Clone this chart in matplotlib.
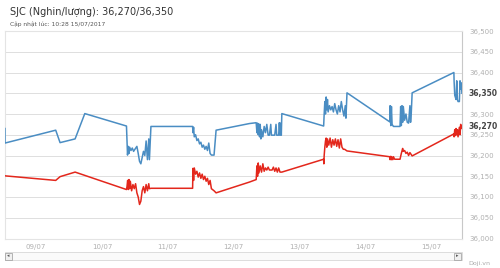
import matplotlib.pyplot as plt
from matplotlib.patches import Rectangle

# time in days of July 2017 (fractional), prices in thousand VND / luong
sell_t = [8.529, 8.530, 9.299, 9.365, 9.593, 9.740, 10.372,
          10.388, 10.40, 10.41, 10.42, 10.44, 10.46, 10.48, 10.50, 10.53, 10.55, 10.57, 10.59,
          10.61, 10.63, 10.65, 10.67, 10.69, 10.71, 10.72, 10.743,
          11.375, 11.38, 11.39, 11.40, 11.42, 11.44, 11.46, 11.48, 11.50, 11.52, 11.54, 11.56,
          11.58, 11.60, 11.62, 11.64, 11.66, 11.70, 11.731,
          12.237,
          12.339, 12.35, 12.36, 12.37, 12.38, 12.39, 12.40, 12.41, 12.42, 12.44, 12.46, 12.48,
          12.50, 12.52, 12.54, 12.56, 12.57, 12.62, 12.64, 12.65, 12.68, 12.69, 12.70, 12.71,
          12.72, 12.728,
          13.362, 13.37, 13.38, 13.39, 13.40, 13.41, 13.42, 13.43, 13.45, 13.47, 13.49, 13.51,
          13.53, 13.55, 13.57, 13.59, 13.61, 13.63, 13.65, 13.67, 13.69, 13.70, 13.716,
          14.365, 14.37, 14.38, 14.39, 14.40, 14.42, 14.52, 14.53, 14.54, 14.55, 14.56, 14.57,
          14.59, 14.61, 14.63, 14.65, 14.67, 14.68, 14.69, 14.704,
          15.337, 15.34, 15.35, 15.36, 15.37, 15.38, 15.39, 15.40, 15.42, 15.43, 15.44, 15.45,
          15.459]
sell_v = [36265, 36230, 36261, 36231, 36240, 36301, 36271,
          36201, 36222, 36205, 36220, 36212, 36218, 36210, 36215, 36222, 36205, 36186, 36180,
          36195, 36210, 36200, 36235, 36190, 36240, 36190, 36270,
          36270, 36255, 36268, 36245, 36250, 36236, 36240, 36228, 36232, 36220, 36225, 36215,
          36222, 36212, 36230, 36205, 36201, 36201, 36261,
          36277,
          36279, 36255, 36278, 36250, 36276, 36245, 36275, 36240, 36262, 36245, 36270, 36255,
          36275, 36249, 36249, 36275, 36249, 36249, 36275, 36249, 36249, 36279, 36249, 36278,
          36249, 36301,
          36271, 36300, 36330, 36300, 36341, 36310, 36335, 36305, 36320, 36310, 36318, 36305,
          36325, 36310, 36300, 36320, 36305, 36330, 36310, 36295, 36320, 36290, 36351,
          36281, 36320, 36272, 36318, 36275, 36270, 36270, 36318, 36272, 36320, 36280, 36318,
          36285, 36300, 36280, 36278, 36320, 36280, 36300, 36351,
          36400, 36380, 36345, 36340, 36335, 36380, 36335, 36330, 36330, 36380, 36360, 36375,
          36350]

buy_t = [8.529, 9.299, 9.365, 9.593, 10.372,
         10.38, 10.39, 10.40, 10.41, 10.42, 10.43, 10.45, 10.47, 10.49, 10.51, 10.53, 10.55,
         10.57, 10.59, 10.61, 10.63, 10.65, 10.67, 10.69, 10.71, 10.72, 10.743,
         11.375, 11.38, 11.39, 11.40, 11.42, 11.44, 11.46, 11.48, 11.50, 11.52, 11.54, 11.56,
         11.58, 11.60, 11.62, 11.64, 11.66, 11.70, 11.731,
         12.237,
         12.339, 12.35, 12.36, 12.37, 12.38, 12.40, 12.42, 12.44, 12.46, 12.48, 12.50, 12.52,
         12.54, 12.58, 12.60, 12.62, 12.64, 12.66, 12.68, 12.70, 12.728,
         13.362, 13.365, 13.37, 13.38, 13.39, 13.40, 13.41, 13.42, 13.44, 13.46, 13.48, 13.50,
         13.52, 13.54, 13.56, 13.58, 13.60, 13.62, 13.64, 13.66, 13.68, 13.716,
         14.365, 14.37, 14.38, 14.39, 14.40, 14.41, 14.42, 14.44, 14.52, 14.54, 14.56, 14.57,
         14.59, 14.61, 14.63, 14.65, 14.67, 14.704,
         15.337, 15.34, 15.35, 15.36, 15.37, 15.38, 15.39, 15.40, 15.42, 15.43, 15.44, 15.45,
         15.459]
buy_v = [36151, 36140, 36149, 36160, 36118,
         36125, 36140, 36118, 36142, 36120, 36138, 36115, 36130, 36120, 36132, 36110, 36100,
         36082, 36090, 36115, 36125, 36110, 36130, 36115, 36132, 36120, 36121,
         36121, 36169, 36140, 36170, 36155, 36162, 36148, 36158, 36145, 36155, 36142, 36150,
         36138, 36145, 36130, 36140, 36120, 36115, 36110,
         36136,
         36142, 36175, 36150, 36182, 36158, 36175, 36160, 36180, 36162, 36170, 36165, 36172,
         36165, 36165, 36172, 36162, 36170, 36160, 36170, 36160, 36160,
         36191, 36180, 36200, 36220, 36235, 36242, 36220, 36240, 36225, 36242, 36220, 36238,
         36225, 36240, 36222, 36238, 36218, 36240, 36220, 36215, 36215, 36211,
         36197, 36190, 36198, 36190, 36196, 36190, 36197, 36191, 36191, 36205, 36217, 36210,
         36212, 36205, 36208, 36200, 36207, 36199,
         36252, 36245, 36262, 36248, 36265, 36250, 36262, 36245, 36268, 36250, 36275, 36265,
         36270]

day_ticks = [9, 10, 11, 12, 13, 14, 15]
day_labels = ['09/07', '10/07', '11/07', '12/07', '13/07', '14/07', '15/07']
y_ticks = list(range(36000, 36501, 50))
last_buy = 36270
last_sell = 36350

fig = plt.figure(figsize=(5, 2.68), dpi=100)
W, H = 500, 268
ax = fig.add_axes([5 / W, 1 - 238.5 / H, 457 / W, 207.5 / H])

ax.plot(sell_t, sell_v, color='#4a8dc3', lw=1.1, zorder=3)
ax.plot(buy_t, buy_v, color='#e3271c', lw=1.1, zorder=3)

ax.set_xlim(8.53, 15.46)
ax.set_ylim(36000, 36500)
ax.yaxis.tick_right()
ax.set_yticks(y_ticks)
# the sell price label takes the place of its own gridline label
ax.set_yticklabels(['' if v == last_sell else '{:,}'.format(v) for v in y_ticks],
                   color='#b0b0b0', fontsize=5)
ax.set_xticks(day_ticks)
ax.set_xticklabels(day_labels, color='#b0b0b0', fontsize=5)
ax.tick_params(length=0, pad=4)
ax.tick_params(axis='y', pad=5)
ax.grid(axis='y', color='#dedede', lw=0.7)
for s in ['left', 'top', 'bottom']:
    ax.spines[s].set_color('#e4e4e4')
    ax.spines[s].set_linewidth(0.8)
ax.spines['right'].set_color('#c8c8c8')
ax.spines['right'].set_linewidth(0.8)

# highlighted last values on the right axis
for v in (last_sell, last_buy):
    ax.annotate('{:,}'.format(v), xy=(1, v), xycoords=('axes fraction', 'data'),
                xytext=(5, 0), textcoords='offset points', va='center', ha='left',
                fontsize=5.5, color='#444444', fontweight='bold')

fig.text(10 / W, 1 - 12 / H, 'SJC (Nghin/lượng): 36,270/36,350', fontsize=7,
         color='#333333', va='center', ha='left')
fig.text(10 / W, 1 - 24 / H, 'Cập nhật lúc: 10:28 15/07/2017', fontsize=4.3,
         color='#555555', va='center', ha='left')

# scrollbar under the chart
fig.patches.append(Rectangle((5 / W, 1 - 260 / H), 457 / W, 8 / H, transform=fig.transFigure,
                             facecolor='#fafafa', edgecolor='#d8d8d8', lw=0.6))
for bx in (5, 454):
    fig.patches.append(Rectangle((bx / W, 1 - 259.5 / H), 7 / W, 7 / H, transform=fig.transFigure,
                                 facecolor='#f0f0f0', edgecolor='#999999', lw=0.5))
fig.text(8.5 / W, 1 - 256 / H, '◂', fontsize=3.5, color='#555555', ha='center', va='center')
fig.text(457.5 / W, 1 - 256 / H, '▸', fontsize=3.5, color='#555555', ha='center', va='center')
fig.text(490 / W, 1 - 264 / H, 'Doji.vn', fontsize=4.5, color='#aaaaaa', ha='right', va='center')

fig.savefig('out.png', dpi=100)
